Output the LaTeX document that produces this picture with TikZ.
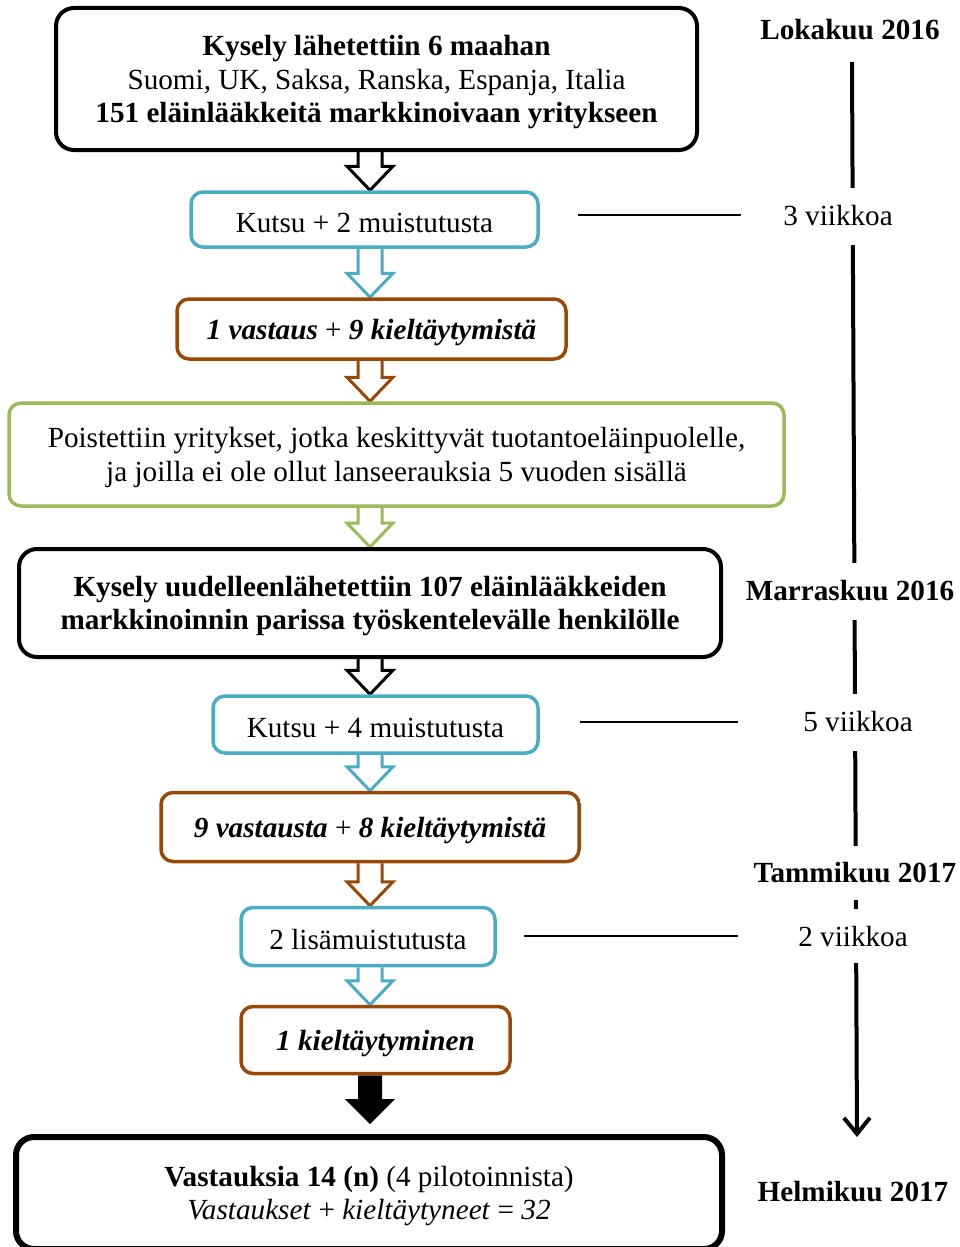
\documentclass[tikz,border=0pt]{standalone}
\usepackage{fontspec}
\setmainfont{Liberation Serif}
\usetikzlibrary{arrows.meta,calc,backgrounds}

\definecolor{stepblue}{RGB}{75,172,198}
\definecolor{resbrown}{RGB}{152,72,7}
\definecolor{filtgreen}{RGB}{155,187,89}

\begin{document}
\begin{tikzpicture}[x=1pt, y=-1pt,
  font=\fontsize{29.2}{33.6}\selectfont,
  box/.style={draw, rounded corners=12pt, line width=3.5pt, align=center, inner sep=0pt, text depth=0pt},
  mainbox/.style={box, rounded corners=18pt, line width=4pt},
  stepbox/.style={box, draw=stepblue, text height=25pt},
  resbox/.style={box, draw=resbrown},
  filterbox/.style={box, draw=filtgreen},
  timelbl/.style={fill=white, minimum height=57pt, inner xsep=4pt},
  tick/.style={line width=1.5pt},
  blockarr/.style={line width=3pt, line join=miter, to path={let \p1=(\tikztostart), \p2=(\tikztotarget) in
    (\x1-12pt,\y1) -- (\x1-12pt,\y2+24pt) -- (\x1-23pt,\y2+24pt) -- (\x1,\y2) -- (\x1+23pt,\y2+24pt) -- (\x1+12pt,\y2+24pt) -- (\x1+12pt,\y1)}},
  bigarr/.style={to path={let \p1=(\tikztostart), \p2=(\tikztotarget) in
    (\x1-12pt,\y1) -- (\x1-12pt,\y2+25pt) -- (\x1-25pt,\y2+25pt) -- (\x1,\y2) -- (\x1+25pt,\y2+25pt) -- (\x1+12pt,\y2+25pt) -- (\x1+12pt,\y1) -- cycle}}
]
\useasboundingbox (0,0) rectangle (959,1247);
\coordinate (ax) at (370,0);

% flow boxes
\node[mainbox, minimum width=641pt, minimum height=142pt] (kysely) at (376.5,79)
  {\textbf{Kysely lähetettiin 6 maahan}\\Suomi, UK, Saksa, Ranska, Espanja, Italia\\\textbf{151 eläinlääkkeitä markkinoivaan yritykseen}};
\node[stepbox, minimum width=347pt, minimum height=55pt] (kutsu1) at (364.5,219.5) {Kutsu + 2 muistutusta};
\node[resbox, minimum width=389pt, minimum height=60pt] (vast1) at (371.5,329)
  {\textbf{\textit{1 vastaus}} + \textbf{\textit{9 kieltäytymistä}}};
\node[filterbox, minimum width=775pt, minimum height=103pt] (poist) at (396.5,454.5)
  {Poistettiin yritykset, jotka keskittyvät tuotantoeläinpuolelle,\\ja joilla ei ole ollut lanseerauksia 5 vuoden sisällä};
\node[mainbox, minimum width=702pt, minimum height=108pt] (uusi) at (370,603)
  {\textbf{Kysely uudelleenlähetettiin 107 eläinlääkkeiden}\\\textbf{markkinoinnin parissa työskentelevälle henkilölle}};
\node[stepbox, minimum width=325pt, minimum height=57pt] (kutsu2) at (375.5,724.5) {Kutsu + 4 muistutusta};
\node[resbox, minimum width=418pt, minimum height=69pt] (vast2) at (370,827)
  {\textbf{\textit{9 vastausta}} + \textbf{\textit{8 kieltäytymistä}}};
\node[stepbox, minimum width=254pt, minimum height=58pt] (lisa) at (368,936.5) {2 lisämuistutusta};
\node[resbox, minimum width=269pt, minimum height=67pt] (kielt) at (375.5,1040)
  {\textbf{\textit{1 kieltäytyminen}}};
\node[mainbox, line width=6pt, minimum width=706pt, minimum height=112pt] (tulos) at (369,1193)
  {\textbf{Vastauksia 14 (n)} (4 pilotoinnista)\\\textit{Vastaukset} + \textit{kieltäytyneet} = \textit{32}};

% timeline
\coordinate (ttop) at (852,62);
\coordinate (tbot) at (857,1137);
\coordinate (w1a) at (578,215);
\coordinate (w1b) at (741,215);
\coordinate (w2a) at (580,722);
\coordinate (w2b) at (738,722);
\coordinate (w3a) at (524,936);
\coordinate (w3b) at (738,936);

\begin{scope}[on background layer]
\draw[line width=4pt, -{Straight Barb[length=16pt,width=26pt]}] (ttop) -- (tbot);
\draw[blockarr, draw=black] (kysely.south -| ax) to (kutsu1.north -| ax);
\draw[blockarr, draw=stepblue] (kutsu1.south -| ax) to (vast1.north -| ax);
\draw[blockarr, draw=resbrown] (vast1.south -| ax) to (poist.north -| ax);
\draw[blockarr, draw=filtgreen] (poist.south -| ax) to (uusi.north -| ax);
\draw[blockarr, draw=black] (uusi.south -| ax) to (kutsu2.north -| ax);
\draw[blockarr, draw=stepblue] (kutsu2.south -| ax) to (vast2.north -| ax);
\draw[blockarr, draw=resbrown] (vast2.south -| ax) to (lisa.north -| ax);
\draw[blockarr, draw=stepblue] (lisa.south -| ax) to (kielt.north -| ax);
\fill[bigarr] (kielt.south -| ax) to ([yshift=10pt]tulos.north -| ax);
\end{scope}

\node[timelbl, font=\fontsize{29.2}{33.6}\selectfont\bfseries] (lok) at (850,30) {Lokakuu 2016};
\node[timelbl] (vk3) at (838,216) {3 viikkoa};
\node[timelbl, font=\fontsize{29.2}{33.6}\selectfont\bfseries] (mar) at (850,591) {Marraskuu 2016};
\node[timelbl] (vk5) at (858,722) {5 viikkoa};
\node[timelbl, minimum height=54pt, font=\fontsize{29.2}{33.6}\selectfont\bfseries] (tam) at (855,873) {Tammikuu 2017};
\node[timelbl, minimum height=54pt] (vk2) at (853,936) {2 viikkoa};
\node[timelbl, font=\fontsize{29.2}{33.6}\selectfont\bfseries] (hel) at (853,1192) {Helmikuu 2017};

\draw[tick] (w1a) -- (w1b);
\draw[tick] (w2a) -- (w2b);
\draw[tick] (w3a) -- (w3b);
\end{tikzpicture}
\end{document}
